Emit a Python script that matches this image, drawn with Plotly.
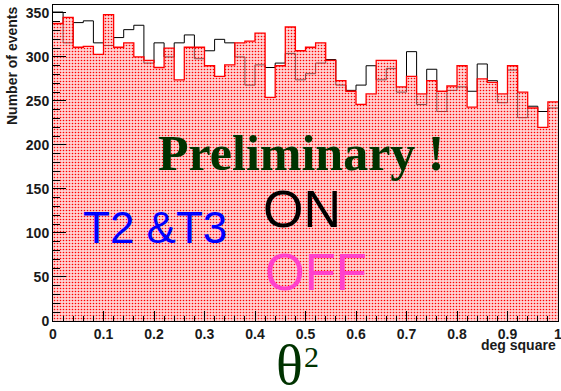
import plotly.graph_objects as go

# 50 bins of theta^2 (deg^2) from 0 to 1
bin_edges = [i * 0.02 for i in range(51)]
on_counts = [351, 316, 339, 341, 316, 313, 322, 331, 336, 293,
             316, 300, 316, 325, 298, 307, 320, 316, 300, 268,
             291, 288, 293, 304, 274, 281, 293, 297, 268, 262,
             268, 290, 274, 287, 260, 306, 246, 286, 238, 262,
             266, 261, 292, 273, 248, 285, 231, 244, 238, 242]
off_counts = [338, 345, 311, 312, 303, 348, 311, 316, 300, 296,
              288, 310, 274, 311, 311, 290, 278, 291, 316, 318,
              327, 254, 290, 334, 307, 311, 316, 296, 273, 261,
              246, 258, 296, 296, 266, 278, 258, 273, 261, 267,
              290, 243, 275, 271, 258, 290, 260, 242, 220, 249]
y_ticks = [0, 50, 100, 150, 200, 250, 300, 350]
x_ticks = [0, 0.1, 0.2, 0.3, 0.4, 0.5, 0.6, 0.7, 0.8, 0.9, 1.0]
x_ticklabels = ["0", "0.1", "0.2", "0.3", "0.4", "0.5", "0.6", "0.7", "0.8", "0.9", "1"]

W, H = 561, 391
L, R, T, B = 53, 3, 5, 70
PW, PH = W - L - R, H - T - B


def px(x):
    return (x - L) / PW


def py(y):
    return (H - B - y) / PH


fig = go.Figure()

# ON histogram (black outline), drawn first so the OFF pattern lies over it
fig.add_trace(go.Scatter(
    x=bin_edges, y=on_counts + [on_counts[-1]],
    mode="lines", line=dict(shape="hv", color="black", width=1),
    hoverinfo="skip", showlegend=False))

# OFF histogram (red outline, dotted red fill)
fig.add_trace(go.Scatter(
    x=bin_edges, y=off_counts + [off_counts[-1]],
    mode="lines", line=dict(shape="hv", color="red", width=1.3),
    fill="tozeroy",
    fillpattern=dict(shape=".", fgcolor="red", bgcolor="rgba(255,165,165,0.5)",
                     size=3, solidity=0.22, fillmode="replace"),
    hoverinfo="skip", showlegend=False))

tickfont = dict(family="Liberation Sans", size=14, color="#1a1a1a", weight="bold")

fig.update_xaxes(
    range=[0, 1], tickvals=x_ticks, ticktext=x_ticklabels, automargin=False,
    ticklabeloverflow="allow",
    ticks="inside", ticklen=10, tickwidth=1, tickcolor="black",
    minor=dict(dtick=0.02, ticks="inside", ticklen=5, tickcolor="black"),
    showline=True, linecolor="black", linewidth=1, mirror=True,
    showgrid=False, zeroline=False, tickfont=tickfont)
fig.update_yaxes(
    range=[0, 359], tickvals=y_ticks, automargin=False,
    ticklabeloverflow="allow",
    ticks="inside", ticklen=13, tickwidth=1, tickcolor="black",
    minor=dict(dtick=10, ticks="inside", ticklen=7, tickcolor="black"),
    showline=True, linecolor="black", linewidth=1, mirror=True,
    showgrid=False, zeroline=False, tickfont=tickfont)

annotations = [
    dict(text="Number of events", x=px(12), y=py(5), xanchor="center", yanchor="top",
         textangle=-90, font=dict(family="Liberation Sans", size=14, color="#1a1a1a", weight="bold")),
    dict(text="deg square", x=px(558), y=py(345), xanchor="right", yanchor="middle",
         font=dict(family="Liberation Sans", size=14, color="#1a1a1a", weight="bold")),
    dict(text="Preliminary !", x=px(301), y=py(153), xanchor="center", yanchor="middle",
         font=dict(family="Liberation Serif", size=50, color="#003300", weight="bold")),
    dict(text="ON", x=px(302), y=py(209), xanchor="center", yanchor="middle",
         font=dict(family="Liberation Sans", size=52, color="black")),
    dict(text="OFF", x=px(316), y=py(272), xanchor="center", yanchor="middle",
         font=dict(family="Liberation Sans", size=51, color="#ff40cc")),
    dict(text="T2 &amp;T3", x=px(155), y=py(227), xanchor="center", yanchor="middle",
         font=dict(family="Liberation Sans", size=44, color="blue")),
    dict(text="θ", x=px(289), y=py(365), xanchor="center", yanchor="middle",
         font=dict(family="Liberation Serif", size=56, color="#003300")),
    dict(text="2", x=px(311), y=py(356), xanchor="center", yanchor="middle",
         font=dict(family="Liberation Serif", size=30, color="#003300")),
]
for a in annotations:
    a.update(xref="paper", yref="paper", showarrow=False)

fig.update_layout(
    width=W, height=H,
    margin=dict(l=L, r=R, t=T, b=B),
    paper_bgcolor="white", plot_bgcolor="white",
    annotations=annotations, showlegend=False)

fig.write_html("out.html", config={"displayModeBar": False},
               post_script="document.body.style.margin='0px';document.body.style.overflow='hidden';")
